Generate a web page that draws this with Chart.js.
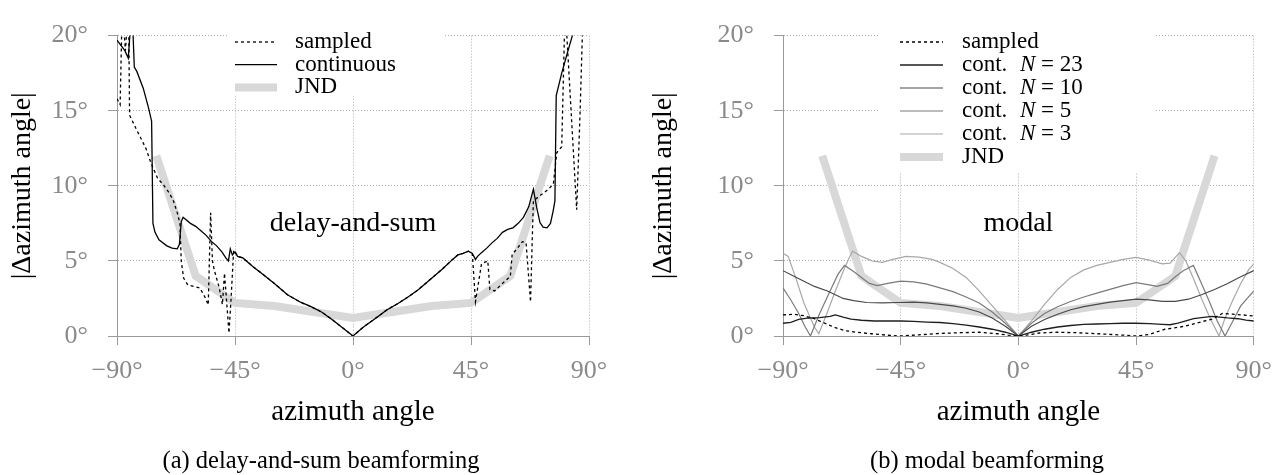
<!DOCTYPE html>
<html>
<head>
<meta charset="utf-8">
<script src="https://cdn.jsdelivr.net/npm/chart.js@4.4.1/dist/chart.umd.min.js"></script>
<style>
  html, body { margin: 0; padding: 0; background: #fff; }
  body { width: 1283px; height: 475px; position: relative; overflow: hidden; }
  canvas { position: absolute; top: 0; }
  .cap { position: absolute; font-family: 'Liberation Serif', serif; font-size: 24.5px; color: #000; white-space: nowrap; transform: translate(-50%, -50%); }
</style>
</head>
<body>
<canvas id="cA" width="641" height="475" style="left:0px"></canvas>
<canvas id="cB" width="642" height="475" style="left:641px"></canvas>
<div class="cap" style="left:321px; top:460px;">(a) delay-and-sum beamforming</div>
<div class="cap" style="left:987px; top:460px;">(b) modal beamforming</div>
<script>
// ---------- axis ticks ----------
const xTicks = [-90, -45, 0, 45, 90];
const yTicks = [0, 5, 10, 15, 20];

// ---------- JND (both panels) ----------
const jndAngles = [-75, -60, -45, -30, -15, 0, 15, 30, 45, 60, 75];
const jndValues = [12, 4, 2.2, 2.0, 1.6, 1.2, 1.6, 2.0, 2.2, 4, 12];

// ---------- (a) delay-and-sum: continuous ----------
const dsContAngles = [-90, -87, -85.7, -84.3, -83.4, -82.4, -80, -78, -76.8, -76.3, -75.5, -74, -71, -69, -67, -66.2, -65.5, -64.8, -62, -60, -58, -56, -54, -52, -50, -48.5, -47.5, -46.8, -46, -45, -44, -42, -40, -38, -35, -30, -25, -20, -16, -12, -8, -4, 0,
  4, 8, 13, 17, 21, 25, 30, 34, 38, 40, 42, 44, 45.5, 46.7, 47.5, 49, 51, 53, 55, 57, 59, 61, 63, 65, 67, 68.8, 70, 71.3, 72.5, 74, 75.3, 76.3, 77, 77.5, 79.6, 82, 84, 86];
const dsContValues = [19.7, 19.0, 18.5, 22, 17.9, 17.6, 16.5, 15.2, 14.3, 7.5, 6.9, 6.4, 6.0, 5.85, 5.8, 6.1, 7.6, 7.9, 7.5, 7.3, 7.0, 6.7, 6.3, 6.0, 5.6, 5.2, 5.0, 5.8, 5.4, 5.6, 5.3, 5.2, 4.9, 4.6, 4.2, 3.5, 2.75, 2.25, 1.95, 1.6, 1.1, 0.55, 0,
  0.6, 1.1, 1.75, 2.15, 2.6, 3.1, 3.85, 4.45, 5.1, 5.4, 5.5, 5.65, 5.5, 5.1, 5.3, 5.55, 5.85, 6.2, 6.5, 6.9, 7.1, 7.2, 7.5, 7.9, 8.6, 9.77, 8.6, 7.55, 7.25, 7.2, 7.5, 8.3, 9.0, 16.0, 17.5, 19.0, 20.2, 22];

// ---------- (a) delay-and-sum: sampled ----------
const dsSampAngles = [-90, -88.8, -88, -86.8, -85.6, -85.2, -83, -81, -79, -77, -76, -74.5, -72, -70, -68.5, -67, -66, -65.5, -64.6, -63, -60.7, -58.4, -56.5, -55.2, -54.3, -53.6, -52.9, -51, -49.8, -49, -47.3, -46.5, -45.5, -45, -44, -42, -40, -38, -35, -30, -25, -20, -16, -12, -8, -4, 0,
  4, 8, 13, 17, 21, 25, 30, 34, 38, 40, 42, 44, 45.5, 46.7, 49, 51.4, 52.2, 54, 57, 60, 60.7, 62.5, 64.6, 66, 67.7, 68.5, 68.8, 71, 74, 76.4, 77.7, 79.6, 80.9, 85.3, 86.6, 87.8, 90];
const dsSampValues = [15.8, 15.4, 22, 19, 22, 14.7, 13.9, 13.2, 12.5, 11.5, 11.1, 10.5, 10.0, 9.5, 9.0, 8.2, 7.5, 5.0, 3.86, 3.4, 3.3, 3.2, 2.6, 2.07, 8.2, 5.0, 4.39, 3.2, 2.1, 4.18, 0.2, 2.5, 5.7, 5.6, 5.3, 5.2, 4.9, 4.6, 4.2, 3.5, 2.75, 2.25, 1.95, 1.6, 1.1, 0.55, 0,
  0.6, 1.1, 1.75, 2.15, 2.6, 3.1, 3.85, 4.45, 5.1, 5.4, 5.5, 5.65, 5.5, 2.28, 4.8, 5.0, 3.1, 3.0, 3.5, 3.97, 5.44, 5.8, 6.28, 6.2, 2.28, 7.3, 9.0, 9.3, 9.7, 10.1, 12.2, 12.6, 22, 8.4, 14.9, 22, 22];

// ---------- (b) modal ----------
const mSampAngles = [-90, -86, -82, -78, -74, -70, -66, -62, -56, -50, -45, -38, -30, -22, -15, -8, -4, 0, 4, 8, 15, 22, 30, 38, 45, 50, 56, 62, 66, 70, 74, 78, 82, 86, 90];
const mSampValues = [1.4, 1.45, 1.35, 1.15, 0.85, 0.55, 0.35, 0.25, 0.15, 0.05, 0.0, 0.08, 0.17, 0.22, 0.25, 0.15, 0.06, 0, 0.08, 0.2, 0.25, 0.22, 0.15, 0.08, 0.0, 0.1, 0.45, 0.6, 0.75, 0.95, 1.12, 1.5, 1.45, 1.4, 1.33];

const n23Angles = [-90, -87, -84, -80, -76, -72, -70, -67, -64, -60, -55, -50, -45, -40, -35, -30, -25, -20, -15, -10, -5, 0, 5, 10, 15, 20, 25, 30, 35, 40, 45, 50, 55, 58, 61, 64, 67, 70, 74, 77, 80, 84, 87, 90];
const n23Values = [0.85, 0.9, 1.1, 1.2, 1.22, 1.3, 1.4, 1.25, 1.12, 1.05, 1.0, 1.0, 1.0, 0.97, 0.93, 0.9, 0.82, 0.72, 0.6, 0.45, 0.25, 0, 0.25, 0.45, 0.6, 0.7, 0.77, 0.8, 0.83, 0.85, 0.85, 0.83, 0.78, 0.75, 0.85, 1.0, 1.15, 1.23, 1.3, 1.25, 1.2, 1.15, 1.05, 1.0];

const n10Angles = [-90, -86, -82, -78, -73, -70, -67, -63, -58, -52, -46, -40, -35, -30, -25, -20, -15, -10, -5, 0, 5, 10, 15, 20, 25, 30, 35, 40, 45, 50, 55, 60, 65, 70, 75, 80, 85, 90];
const n10Values = [4.35, 4.0, 3.65, 3.3, 3.0, 2.75, 2.5, 2.35, 2.23, 2.2, 2.23, 2.25, 2.2, 2.1, 2.0, 1.85, 1.6, 1.2, 0.65, 0, 0.65, 1.1, 1.45, 1.75, 1.95, 2.1, 2.25, 2.35, 2.45, 2.4, 2.3, 2.3, 2.45, 2.75, 3.1, 3.5, 3.95, 4.35];

const n5Angles = [-90, -87, -84, -81.5, -79.5, -76, -72, -69, -66.5, -63, -60, -57, -54, -50, -45, -40, -35, -30, -25, -20, -15, -10, -5, 0, 5, 10, 15, 20, 25, 30, 35, 40, 45, 50, 53, 57, 60, 63, 66.9, 70, 73, 76, 79, 82, 85, 88, 90];
const n5Values = [3.2, 2.4, 1.5, 0.6, 0, 1.5, 3.0, 4.1, 4.7, 4.3, 3.9, 3.5, 3.35, 3.5, 3.65, 3.6, 3.45, 3.2, 2.95, 2.6, 2.2, 1.6, 0.85, 0, 0.85, 1.5, 1.95, 2.3, 2.6, 2.85, 3.1, 3.35, 3.55, 3.4, 3.3, 3.5, 3.95, 4.35, 4.7, 3.5, 2.3, 1.0, 0, 1.0, 2.0, 2.6, 3.0];

const n3Angles = [-90, -88, -85, -82, -78, -76.3, -73, -70, -67, -65, -63.4, -60, -56, -52, -48, -43, -38, -33, -30, -25, -20, -15, -10, -5, 0, 5, 10, 15, 20, 25, 30, 35, 40, 45, 50, 55, 58, 61.6, 64, 67, 70, 73, 76.7, 79, 82, 85, 88, 90];
const n3Values = [5.5, 5.3, 3.8, 2.2, 0.6, 0.15, 1.6, 3.0, 4.3, 5.1, 5.65, 5.3, 5.0, 4.9, 5.1, 5.3, 5.25, 5.1, 4.9, 4.5, 3.9, 3.0, 2.0, 1.0, 0, 1.0, 2.1, 3.1, 3.9, 4.4, 4.7, 4.9, 5.1, 5.23, 5.05, 4.8, 4.85, 5.55, 5.0, 3.8, 2.5, 1.3, 0, 1.2, 2.4, 3.5, 4.4, 4.8];

// ---------- helpers ----------
const FONT = "'Liberation Serif', serif";
const pts = (xs, ys) => xs.map((x, i) => ({ x: x, y: ys[i] }));
const degLabel = v => (v < 0 ? '\u2212' + (-v) : String(v)) + '\u00b0';

function lineDs(label, xs, ys, color, width, dash) {
  return {
    label: label, data: pts(xs, ys), borderColor: color, backgroundColor: color,
    borderWidth: width, borderDash: dash || [], pointRadius: 0, tension: 0, fill: false
  };
}

const legendBoxPlugin = {
  id: 'legendBox',
  beforeDatasetsDraw(chart, args, o) {
    const ctx = chart.ctx;
    ctx.save();
    ctx.fillStyle = '#fff';
    ctx.fillRect(o.box[0], o.box[1], o.box[2], o.box[3]);
    ctx.restore();
  },
  afterDatasetsDraw(chart, args, o) {
    const ctx = chart.ctx;
    ctx.save();
    chart.data.datasets.forEach((ds, i) => {
      const y = o.y0 + i * o.dy;
      ctx.beginPath();
      ctx.setLineDash(ds.borderDash || []);
      ctx.lineWidth = ds.borderWidth;
      ctx.strokeStyle = ds.borderColor;
      ctx.moveTo(o.x0, y);
      ctx.lineTo(o.x0 + o.len, y);
      ctx.stroke();
      ctx.setLineDash([]);
      ctx.fillStyle = '#000';
      ctx.textBaseline = 'middle';
      ctx.textAlign = 'left';
      let x = o.x0 + o.len + o.gap;
      const m = /^(cont\.)\s+N(.*)$/.exec(ds.label);
      if (m) {
        ctx.font = o.size + 'px ' + FONT;
        ctx.fillText(m[1], x, y);
        x += ctx.measureText(m[1]).width + o.size * 0.55;
        ctx.font = 'italic ' + o.size + 'px ' + FONT;
        ctx.fillText('N', x, y);
        x += ctx.measureText('N').width;
        ctx.font = o.size + 'px ' + FONT;
        ctx.fillText(m[2], x, y);
      } else {
        ctx.font = o.size + 'px ' + FONT;
        ctx.fillText(ds.label, x, y);
      }
    });
    ctx.restore();
  }
};

const annotPlugin = {
  id: 'annot',
  afterDatasetsDraw(chart, args, o) {
    const ctx = chart.ctx;
    const xs = chart.scales.x, ys = chart.scales.y;
    ctx.save();
    ctx.font = o.size + 'px ' + FONT;
    ctx.fillStyle = '#000';
    ctx.textAlign = 'center';
    ctx.textBaseline = 'middle';
    ctx.fillText(o.text, xs.getPixelForValue(o.x), ys.getPixelForValue(o.y));
    ctx.restore();
  }
};

function makeOptions(yAxisWidth, rightPad, legendOpts, annot) {
  return {
    responsive: false,
    animation: false,
    devicePixelRatio: 1,
    layout: { padding: { left: 0, top: 6, right: rightPad, bottom: 0 } },
    plugins: {
      legend: { display: false },
      tooltip: { enabled: false },
      legendBox: legendOpts,
      annot: annot
    },
    scales: {
      x: {
        type: 'linear', min: -90, max: 90,
        afterBuildTicks: s => { s.ticks = xTicks.map(v => ({ value: v })); },
        afterFit: s => { s.height = 139; },
        ticks: { callback: degLabel, color: '#8a8a8a', font: { family: FONT, size: 26 }, padding: 11, maxRotation: 0 },
        grid: { color: '#b0b0b0', lineWidth: 1, tickLength: 9, tickColor: '#9a9a9a', drawOnChartArea: true },
        border: { display: true, color: '#9a9a9a', width: 1, dash: [1, 2] },
        title: { display: true, text: 'azimuth angle', color: '#000', font: { family: FONT, size: 29 }, padding: { top: 0, bottom: 45 } }
      },
      y: {
        type: 'linear', min: 0, max: 20,
        afterBuildTicks: s => { s.ticks = yTicks.map(v => ({ value: v })); },
        afterFit: s => { s.width = yAxisWidth; },
        ticks: { callback: degLabel, color: '#8a8a8a', font: { family: FONT, size: 26 }, padding: 20 },
        grid: { color: '#b0b0b0', lineWidth: 1, tickLength: 9, tickColor: '#9a9a9a' },
        border: { display: true, color: '#9a9a9a', width: 1, dash: [1, 2] },
        title: { display: true, text: '|\u0394azimuth angle|', color: '#000', font: { family: FONT, size: 28 }, padding: { top: 6, bottom: 0 } }
      }
    }
  };
}

const JND_COLOR = '#d8d8d8';

new Chart(document.getElementById('cA'), {
  type: 'line',
  data: {
    datasets: [
      lineDs('sampled', dsSampAngles, dsSampValues, '#000', 1.3, [3, 3]),
      lineDs('continuous', dsContAngles, dsContValues, '#000', 1.3),
      lineDs('JND', jndAngles, jndValues, JND_COLOR, 8)
    ]
  },
  options: makeOptions(117, 52,
    { box: [228, 28, 215, 68], x0: 235, y0: 42, dy: 22.7, len: 42, gap: 18, size: 23 },
    { text: 'delay-and-sum', x: 0, y: 7.5, size: 28 }),
  plugins: [legendBoxPlugin, annotPlugin]
});

new Chart(document.getElementById('cB'), {
  type: 'line',
  data: {
    datasets: [
      lineDs('sampled', mSampAngles, mSampValues, '#000', 1.3, [3, 3]),
      lineDs('cont. N = 23', n23Angles, n23Values, '#1e1e1e', 1.3),
      lineDs('cont. N = 10', n10Angles, n10Values, '#4a4a4a', 1.2),
      lineDs('cont. N = 5', n5Angles, n5Values, '#7a7a7a', 1.2),
      lineDs('cont. N = 3', n3Angles, n3Values, '#a8a8a8', 1.2),
      lineDs('JND', jndAngles, jndValues, JND_COLOR, 8)
    ]
  },
  options: makeOptions(142, 28,
    { box: [239, 28, 275, 144], x0: 259, y0: 42, dy: 23, len: 43, gap: 19, size: 23 },
    { text: 'modal', x: 0, y: 7.5, size: 28 }),
  plugins: [legendBoxPlugin, annotPlugin]
});
</script>
</body>
</html>
